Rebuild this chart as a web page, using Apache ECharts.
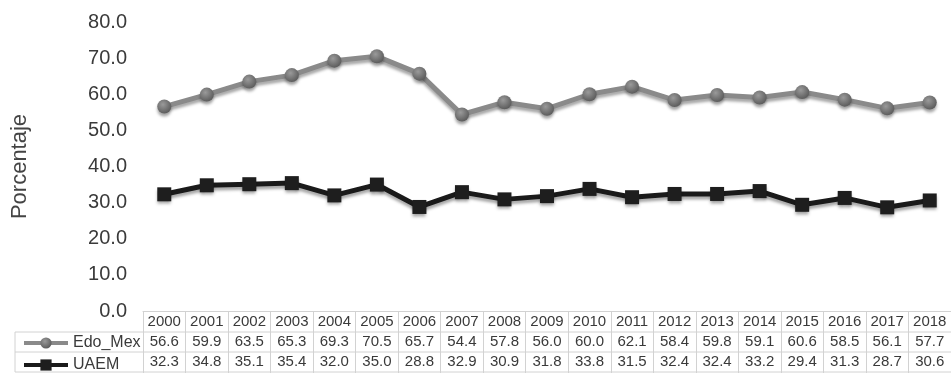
<!DOCTYPE html>
<html>
<head>
<meta charset="utf-8">
<script src="https://cdn.jsdelivr.net/npm/echarts@6/dist/echarts.min.js"></script>
<style>
  html, body { margin: 0; padding: 0; background: #fff; }
  #chart { width: 951px; height: 384px; }
</style>
</head>
<body>
<div id="chart"></div>
<script>
const years = ['2000','2001','2002','2003','2004','2005','2006','2007','2008','2009','2010','2011','2012','2013','2014','2015','2016','2017','2018']
const edoMex = [56.6, 59.9, 63.5, 65.3, 69.3, 70.5, 65.7, 54.4, 57.8, 56.0, 60.0, 62.1, 58.4, 59.8, 59.1, 60.6, 58.5, 56.1, 57.7]
const uaem = [32.3, 34.8, 35.1, 35.4, 32.0, 35.0, 28.8, 32.9, 30.9, 31.8, 33.8, 31.5, 32.4, 32.4, 33.2, 29.4, 31.3, 28.7, 30.6]

const font = 'Liberation Sans, Arial, sans-serif'
const gridColor = '#d2d2d2'

let myChart = echarts.init(document.getElementById('chart'))

myChart.setOption({
  animation: false,
  textStyle: {fontFamily: font},
  grid: {left: 143, right: 0, top: 22, bottom: 73},
  legend: {
    orient: 'vertical',
    left: 22,
    top: 335,
    padding: 0,
    itemWidth: 44,
    itemHeight: 14,
    itemGap: 6,
    lineStyle: {width: 4},
    textStyle: {fontSize: 16, lineHeight: 14, color: '#3a3a3a', fontFamily: font},
    data: ['Edo_Mex', 'UAEM']
  },
  xAxis: {
    type: 'category',
    data: years,
    boundaryGap: true,
    axisLine: {lineStyle: {color: gridColor}},
    axisTick: {show: true, length: 62, interval: 0, lineStyle: {color: gridColor}},
    axisLabel: {
      interval: 0,
      margin: 1,
      color: '#3a3a3a',
      fontSize: 15,
      lineHeight: 20,
      formatter: function (value, i) {
        return value + '\n' + edoMex[i].toFixed(1) + '\n' + uaem[i].toFixed(1)
      }
    }
  },
  yAxis: {
    type: 'value',
    min: 0,
    max: 80,
    interval: 10,
    name: 'Porcentaje',
    nameLocation: 'middle',
    nameGap: 112,
    nameRotate: 90,
    nameTextStyle: {fontSize: 22, color: '#444'},
    axisLine: {show: false},
    axisTick: {show: false},
    splitLine: {show: false},
    axisLabel: {
      fontSize: 20,
      color: '#3a3a3a',
      margin: 16,
      formatter: v => v.toFixed(1)
    }
  },
  graphic: [
    {type: 'line', shape: {x1: 15, y1: 332, x2: 951, y2: 332}, style: {stroke: gridColor, lineWidth: 1}},
    {type: 'line', shape: {x1: 15, y1: 352, x2: 951, y2: 352}, style: {stroke: gridColor, lineWidth: 1}},
    {type: 'line', shape: {x1: 15, y1: 372, x2: 951, y2: 372}, style: {stroke: gridColor, lineWidth: 1}},
    {type: 'line', shape: {x1: 15, y1: 332, x2: 15, y2: 372}, style: {stroke: gridColor, lineWidth: 1}}
  ],
  series: [
    {
      name: 'Edo_Mex',
      type: 'line',
      data: edoMex,
      symbol: 'circle',
      symbolSize: 14,
      lineStyle: {
        color: '#8a8a8a',
        width: 5,
        shadowColor: 'rgba(0,0,0,0.35)',
        shadowBlur: 3,
        shadowOffsetY: 3
      },
      itemStyle: {
        color: new echarts.graphic.RadialGradient(0.4, 0.35, 0.7, [
          {offset: 0, color: '#9a9a9a'},
          {offset: 1, color: '#585858'}
        ]),
        shadowColor: 'rgba(0,0,0,0.35)',
        shadowBlur: 3,
        shadowOffsetY: 3
      }
    },
    {
      name: 'UAEM',
      type: 'line',
      data: uaem,
      symbol: 'rect',
      symbolSize: 14,
      lineStyle: {
        color: '#1a1a1a',
        width: 5,
        shadowColor: 'rgba(0,0,0,0.35)',
        shadowBlur: 3,
        shadowOffsetY: 3
      },
      itemStyle: {
        color: '#1e1e1e',
        shadowColor: 'rgba(0,0,0,0.35)',
        shadowBlur: 3,
        shadowOffsetY: 3
      }
    }
  ]
})
</script>
</body>
</html>
